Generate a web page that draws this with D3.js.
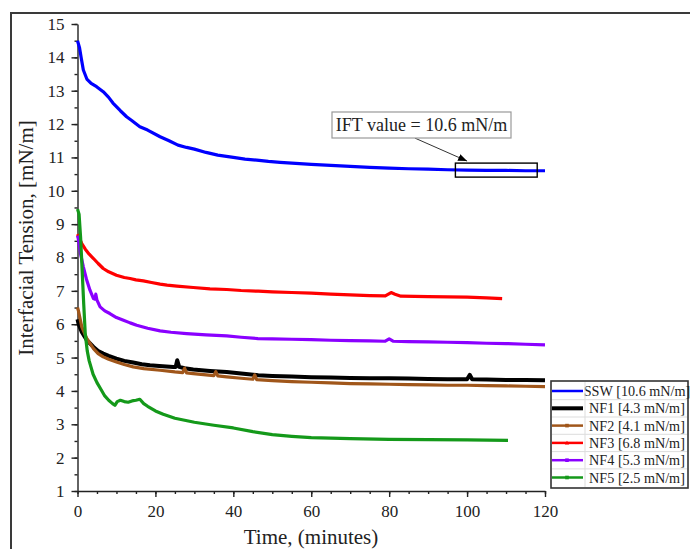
<!DOCTYPE html>
<html>
<head>
<meta charset="utf-8">
<script src="https://cdn.jsdelivr.net/npm/d3@7"></script>
<style>
  body { margin: 0; background: #fff; }
  svg { display: block; }
</style>
</head>
<body>
<div id="chart"></div>
<script>
// IFT vs time
var seriesNames = ['SSW [10.6 mN/m]', 'NF1 [4.3 mN/m]', 'NF2 [4.1 mN/m]', 'NF3 [6.8 mN/m]', 'NF4 [5.3 mN/m]', 'NF5 [2.5 mN/m]'];
var seriesColors = ['#0000ff', '#000000', '#a0561a', '#ff0000', '#8a00ff', '#14991a'];

var ssw = [[0,14.5],[0.5,14.3],[1,13.95],[1.5,13.62],[2.4,13.35],[3.5,13.22],[4.9,13.12],[6.6,12.97],[8,12.8],[9.1,12.63],
  [11,12.4],[12.6,12.22],[14,12.1],[16,11.92],[18,11.82],[21.2,11.62],[23.5,11.5],[25.8,11.37],[28,11.3],[30,11.25],
  [33,11.15],[36,11.07],[40,11.0],[43,10.95],[46,10.92],[49,10.88],[52,10.85],[56,10.82],[60,10.79],[65,10.76],
  [70,10.73],[75,10.7],[80,10.68],[85,10.66],[90,10.65],[95,10.63],[100,10.62],[105,10.61],[110,10.61],[115,10.6],[120,10.6]];

var nf1 = [[0,6.15],[0.3,6.0],[1.1,5.77],[2.4,5.52],[4.1,5.32],[5.3,5.2],[6.6,5.12],[8,5.05],[10,4.97],[12,4.9],
  [14.3,4.85],[16.5,4.8],[18.6,4.77],[21,4.75],[24.6,4.72],[25.2,4.72],[25.6,4.92],[26.1,4.72],[27.5,4.68],[29.7,4.64],
  [34,4.6],[38.3,4.57],[42,4.52],[46.4,4.47],[50,4.45],[55,4.43],[60,4.41],[65,4.4],[70,4.39],[75,4.38],[80,4.38],
  [85,4.37],[90,4.36],[95,4.35],[100,4.35],[100.7,4.48],[101.3,4.35],[105,4.34],[110,4.33],[115,4.33],[120,4.32]];

var nf2 = [[0,6.5],[0.2,6.42],[1.1,5.92],[2.4,5.57],[4.1,5.27],[5.3,5.12],[6.6,5.02],[8,4.95],[10,4.87],[12,4.79],
  [14.3,4.72],[17,4.67],[21.2,4.62],[25,4.57],[27,4.55],[27.5,4.68],[28,4.54],[29.7,4.52],[33,4.48],[35,4.46],
  [35.5,4.58],[36,4.45],[38.3,4.42],[42,4.38],[45,4.35],[45.5,4.48],[46,4.34],[50,4.31],[55,4.28],[60,4.26],
  [65,4.24],[70,4.22],[75,4.21],[80,4.2],[85,4.19],[90,4.18],[95,4.17],[100,4.17],[105,4.16],[110,4.15],[115,4.14],[120,4.13]];

var nf3 = [[0,8.7],[0.3,8.62],[1.1,8.42],[2,8.25],[3,8.1],[4.1,7.97],[5.3,7.82],[6.6,7.67],[8,7.57],[10,7.47],
  [12,7.4],[13.5,7.37],[15,7.33],[16.9,7.3],[19,7.25],[21.2,7.2],[23,7.17],[25.5,7.14],[29.7,7.1],[34,7.06],
  [38.3,7.04],[42,7.01],[46.4,6.99],[50,6.97],[55,6.95],[60,6.93],[65,6.9],[70,6.88],[75,6.86],[79,6.85],
  [80.5,6.95],[81.5,6.9],[83,6.84],[90,6.83],[95,6.82],[100,6.81],[105,6.79],[109,6.77]];

var nf4 = [[0,8.65],[0.2,8.57],[0.8,8.1],[1.5,7.72],[2.3,7.35],[3.2,7.02],[4.1,6.77],[4.5,6.75],[4.7,6.9],[5.0,6.72],
  [5.8,6.52],[7,6.4],[8.3,6.32],[10,6.2],[11.8,6.12],[13.5,6.04],[15.2,5.97],[18,5.88],[21.2,5.8],[24,5.76],
  [28,5.72],[33,5.68],[38.3,5.65],[42,5.61],[46.3,5.57],[50,5.56],[55,5.55],[60,5.54],[65,5.52],[70,5.51],
  [75,5.5],[79,5.49],[80,5.56],[81,5.49],[85,5.48],[90,5.47],[95,5.46],[100,5.45],[105,5.43],[110,5.42],[115,5.4],[120,5.38]];

var nf5 = [[0,9.45],[0.4,9.3],[0.8,8.6],[1.2,7.6],[1.6,6.6],[2,5.7],[2.5,5.2],[3,4.9],[4,4.5],[5,4.25],[6,4.05],
  [7,3.85],[8,3.72],[9,3.62],[9.6,3.57],[10.2,3.68],[11,3.72],[12,3.68],[13,3.66],[14,3.7],[15,3.72],
  [16,3.75],[17,3.62],[18,3.54],[20,3.4],[22,3.3],[25,3.18],[30,3.06],[35,2.97],[40,2.89],[45,2.78],
  [50,2.69],[55,2.64],[60,2.6],[70,2.57],[80,2.55],[90,2.54],[100,2.53],[110.5,2.52]];

var allSeries = [ssw, nf1, nf2, nf3, nf4, nf5];

var xMajor = [0, 20, 40, 60, 80, 100, 120];
var yMajor = d3.range(1, 16);

var serif = '"Liberation Serif", "DejaVu Serif", serif';
var W = 690, H = 549;
var svg = d3.select('#chart').append('svg').attr('width', W).attr('height', H);
var defs = svg.append('defs');

// outer frame (runs off the right and bottom of the picture)
svg.append('rect').attr('x', 11).attr('y', 13).attr('width', 720).attr('height', 600)
  .attr('fill', 'none').attr('stroke', '#3a3a3a').attr('stroke-width', 2);

var x = d3.scaleLinear().domain([0, 120]).range([77.5, 545]);
var y = d3.scaleLinear().domain([1, 15]).range([491, 24]);

// minor ticks
svg.append('g').attr('transform', 'translate(0,491)')
  .call(d3.axisBottom(x).tickValues(d3.range(0, 121, 5)).tickSize(3).tickFormat(''))
  .call(g => g.select('.domain').remove());
svg.append('g').attr('transform', 'translate(77.5,0)')
  .call(d3.axisLeft(y).tickValues(d3.range(1, 15.01, 0.5)).tickSize(3).tickFormat(''))
  .call(g => g.select('.domain').remove());

svg.append('g').attr('transform', 'translate(0,491)')
  .call(d3.axisBottom(x).tickValues(xMajor).tickSize(6).tickSizeOuter(0).tickPadding(8))
  .attr('font-family', serif).attr('font-size', 17);
svg.append('g').attr('transform', 'translate(77.5,0)')
  .call(d3.axisLeft(y).tickValues(yMajor).tickSize(6).tickSizeOuter(0).tickPadding(7))
  .attr('font-family', serif).attr('font-size', 17);
svg.selectAll('.domain, .tick line').attr('stroke', '#222').attr('stroke-width', 1.4);
svg.selectAll('.tick text').attr('fill', '#222');

svg.append('text').attr('x', 311).attr('y', 544).attr('text-anchor', 'middle')
  .attr('font-family', serif).attr('font-size', 21).attr('fill', '#222')
  .text('Time, (minutes)');
svg.append('text').attr('transform', 'translate(33,238) rotate(-90)').attr('text-anchor', 'middle')
  .attr('font-family', serif).attr('font-size', 21).attr('fill', '#222')
  .text('Interfacial Tension, [mN/m]');

var line = d3.line().x(d => x(d[0])).y(d => y(d[1]));

svg.append('g').selectAll('path.series')
  .data(allSeries)
  .enter()
    .append('path')
    .attr('class', 'series')
    .attr('d', line)
    .attr('fill', 'none')
    .attr('stroke', (d, i) => seriesColors[i])
    .attr('stroke-width', (d, i) => i === 1 ? 4 : 3.2)
    .attr('stroke-linejoin', 'round');

// annotation
var ann = svg.append('g');
ann.append('rect').attr('x', x(97)).attr('y', y(10.83)).attr('width', x(118) - x(97)).attr('height', y(10.41) - y(10.83))
  .attr('fill', 'none').attr('stroke', '#000').attr('stroke-width', 1.4);
defs.append('marker').attr('id', 'arr').attr('viewBox', '0 0 10 10')
  .attr('refX', 10).attr('refY', 5).attr('markerWidth', 9).attr('markerHeight', 9).attr('orient', 'auto')
  .append('path').attr('d', 'M0,1 L10,5 L0,9 Z').attr('fill', '#000');
ann.append('line').attr('x1', x(86.6)).attr('y1', y(11.58)).attr('x2', x(100)).attr('y2', y(10.89))
  .attr('stroke', '#333').attr('stroke-width', 1).attr('marker-end', 'url(#arr)');
ann.append('rect').attr('x', 332).attr('y', 112).attr('width', 179).attr('height', 26)
  .attr('fill', '#fff').attr('stroke', '#999').attr('stroke-width', 1.2);
ann.append('text').attr('x', 421.5).attr('y', 131).attr('text-anchor', 'middle')
  .attr('font-family', serif).attr('font-size', 18).attr('fill', '#222')
  .text('IFT value = 10.6 mN/m');

// legend
var lg = svg.append('g');
lg.append('rect').attr('x', 551).attr('y', 381).attr('width', 137).attr('height', 107)
  .attr('fill', '#fff').attr('stroke', '#333').attr('stroke-width', 1.6);
var rows = lg.selectAll('g.row')
  .data(seriesNames).enter().append('g').attr('class', 'row')
  .attr('transform', (d, i) => 'translate(0,' + (391 + i * 17.3) + ')');
rows.filter((d, i) => i > 0).append('line').attr('x1', 552).attr('x2', 687).attr('y1', -8.6).attr('y2', -8.6)
  .attr('stroke', '#ddd').attr('stroke-width', 1);
rows.append('line').attr('x1', 552).attr('x2', 583).attr('y1', 0).attr('y2', 0)
  .attr('stroke', (d, i) => seriesColors[i]).attr('stroke-width', (d, i) => i === 1 ? 4 : 2.5);
rows.filter((d, i) => i >= 2).append('path')
  .attr('d', (d, i) => i === 1 ? 'M-2.2,1.6 L0,-2.2 L2.2,1.6 Z' : 'M-1.8,-1.8 H1.8 V1.8 H-1.8 Z')
  .attr('transform', 'translate(567,0)')
  .attr('fill', (d, i) => seriesColors[i + 2]);
rows.append('text').attr('x', 637).attr('y', 5).attr('text-anchor', 'middle')
  .attr('font-family', serif).attr('font-size', 14.2).attr('fill', '#222')
  .text(d => d);
lg.append('line').attr('x1', 585).attr('x2', 585).attr('y1', 382).attr('y2', 487).attr('stroke', '#ddd');
</script>
</body>
</html>
